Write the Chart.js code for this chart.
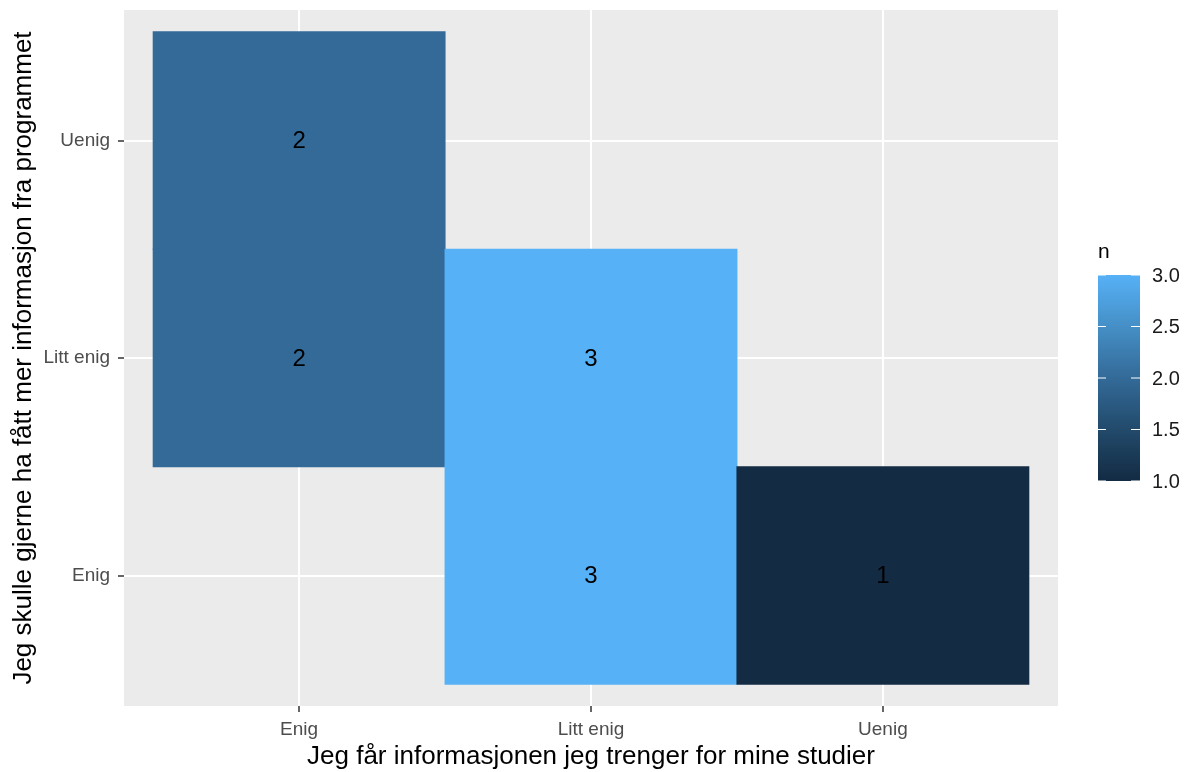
<!DOCTYPE html>
<html>
<head>
<meta charset="utf-8">
<script src="https://cdn.jsdelivr.net/npm/chart.js@4.4.1/dist/chart.umd.min.js"></script>
<style>
  html, body { margin: 0; padding: 0; background: #fff; }
  #wrap { width: 1185px; height: 772px; }
</style>
</head>
<body>
<div id="wrap"><canvas id="heat"></canvas></div>
<script>
// categories (bottom-to-top for y)
const xLabels = ['Enig', 'Litt enig', 'Uenig'];
const yLabels = ['Enig', 'Litt enig', 'Uenig'];

// tiles
const tileX = ['Enig', 'Enig', 'Litt enig', 'Litt enig', 'Uenig'];
const tileY = ['Uenig', 'Litt enig', 'Litt enig', 'Enig', 'Enig'];
const tileN = [2, 2, 3, 3, 1];

// colour bar
const legendTicks = [1.0, 1.5, 2.0, 2.5, 3.0];
const nMin = 1, nMax = 3;

const FONT = "'Liberation Sans', Arial, sans-serif";

// ggplot-ish gradient #132B43 -> #56B1F7
const stops = [[19, 43, 67], [34, 74, 107], [51, 106, 152], [69, 143, 198], [86, 177, 247]];
function fillFor(n) {
    let t = (n - nMin) / (nMax - nMin);
    t = Math.max(0, Math.min(1, t));
    const p = t * (stops.length - 1);
    const i = Math.min(stops.length - 2, Math.floor(p));
    const f = p - i;
    const c = stops[i].map((v, k) => Math.round(v + (stops[i + 1][k] - v) * f));
    return `rgb(${c[0]},${c[1]},${c[2]})`;
}

const tileData = tileN.map((n, i) => {
    const yi = yLabels.indexOf(tileY[i]) + 1;
    return { x: xLabels.indexOf(tileX[i]) + 1, y: [yi - 0.5, yi + 0.5], n: n };
});

const panelBg = {
    id: 'panelBg',
    beforeDraw(chart) {
        const { ctx, chartArea: a } = chart;
        ctx.save();
        ctx.fillStyle = '#EBEBEB';
        ctx.fillRect(a.left, a.top, a.right - a.left, a.bottom - a.top);
        ctx.restore();
    }
};

const tileText = {
    id: 'tileText',
    afterDatasetsDraw(chart) {
        const { ctx, scales } = chart;
        ctx.save();
        ctx.fillStyle = '#000';
        ctx.font = `24px ${FONT}`;
        ctx.textAlign = 'center';
        ctx.textBaseline = 'middle';
        tileData.forEach(d => {
            const px = scales.x.getPixelForValue(d.x);
            const py = scales.y.getPixelForValue((d.y[0] + d.y[1]) / 2);
            ctx.fillText(String(d.n), px, py + 1);
        });
        ctx.restore();
    }
};

const colourBar = {
    id: 'colourBar',
    afterDraw(chart) {
        const ctx = chart.ctx;
        const left = 1098, right = 1140, top = 275, bottom = 481;
        ctx.save();
        const g = ctx.createLinearGradient(0, bottom, 0, top);
        for (let k = 0; k <= 20; k++) {
            g.addColorStop(k / 20, fillFor(nMin + (nMax - nMin) * k / 20));
        }
        ctx.fillStyle = g;
        ctx.fillRect(left, top, right - left, bottom - top);

        ctx.fillStyle = '#000';
        ctx.font = `21px ${FONT}`;
        ctx.textAlign = 'left';
        ctx.textBaseline = 'alphabetic';
        ctx.fillText('n', left, 258);

        ctx.font = `20px ${FONT}`;
        ctx.textBaseline = 'middle';
        ctx.strokeStyle = '#fff';
        ctx.lineWidth = 1.2;
        legendTicks.forEach(v => {
            const y = bottom - (v - nMin) / (nMax - nMin) * (bottom - top);
            ctx.fillStyle = '#1A1A1A';
            ctx.fillText(v.toFixed(1), 1152, y + 1);
            ctx.beginPath();
            ctx.moveTo(left, y); ctx.lineTo(left + 8, y);
            ctx.moveTo(right - 9, y); ctx.lineTo(right, y);
            ctx.stroke();
        });
        ctx.restore();
    }
};

function fixedTicks(scale) {
    scale.ticks = [1, 2, 3].map(v => ({ value: v }));
}

// tick labels never reach the panel edges, so drop the label overhang padding
function noOverhang(scale, size) {
    if (scale.isHorizontal()) scale.height = size; else scale.width = size;
    scale.paddingTop = 0; scale.paddingBottom = 0;
    scale.paddingLeft = 0; scale.paddingRight = 0;
}

new Chart(document.getElementById('heat'), {
    type: 'bar',
    data: {
        datasets: [{
            data: tileData,
            backgroundColor: tileData.map(d => fillFor(d.n)),
            borderWidth: 0,
            barPercentage: 1,
            categoryPercentage: 1,
            inflateAmount: 0.5
        }]
    },
    options: {
        responsive: true,
        maintainAspectRatio: false,
        animation: false,
        layout: { padding: { left: 0, top: 10, right: 127, bottom: 0 } },
        plugins: {
            legend: { display: false },
            tooltip: { enabled: false }
        },
        scales: {
            x: {
                type: 'linear',
                min: 0.4,
                max: 3.6,
                offset: false,
                afterBuildTicks: fixedTicks,
                afterFit: s => noOverhang(s, 66),
                ticks: {
                    callback: v => xLabels[v - 1],
                    color: '#4D4D4D',
                    font: { family: FONT, size: 19 },
                    padding: 6,
                    maxRotation: 0
                },
                grid: { offset: false, color: '#FFFFFF', lineWidth: 2, tickColor: '#333333', tickWidth: 1.5, tickLength: 6 },
                border: { display: false },
                title: {
                    display: true,
                    text: 'Jeg får informasjonen jeg trenger for mine studier',
                    color: '#000',
                    font: { family: FONT, size: 26 },
                    padding: { top: 0, bottom: 0 }
                }
            },
            y: {
                type: 'linear',
                min: 0.4,
                max: 3.6,
                offset: false,
                afterBuildTicks: fixedTicks,
                afterFit: s => noOverhang(s, 124),
                ticks: {
                    callback: v => yLabels[v - 1],
                    color: '#4D4D4D',
                    font: { family: FONT, size: 19 },
                    padding: 8
                },
                grid: { offset: false, color: '#FFFFFF', lineWidth: 2, tickColor: '#333333', tickWidth: 1.5, tickLength: 6 },
                border: { display: false },
                title: {
                    display: true,
                    text: 'Jeg skulle gjerne ha fått mer informasjon fra programmet',
                    color: '#000',
                    font: { family: FONT, size: 26 },
                    padding: { top: 8, bottom: 0 }
                }
            }
        }
    },
    plugins: [panelBg, tileText, colourBar]
});
</script>
</body>
</html>
